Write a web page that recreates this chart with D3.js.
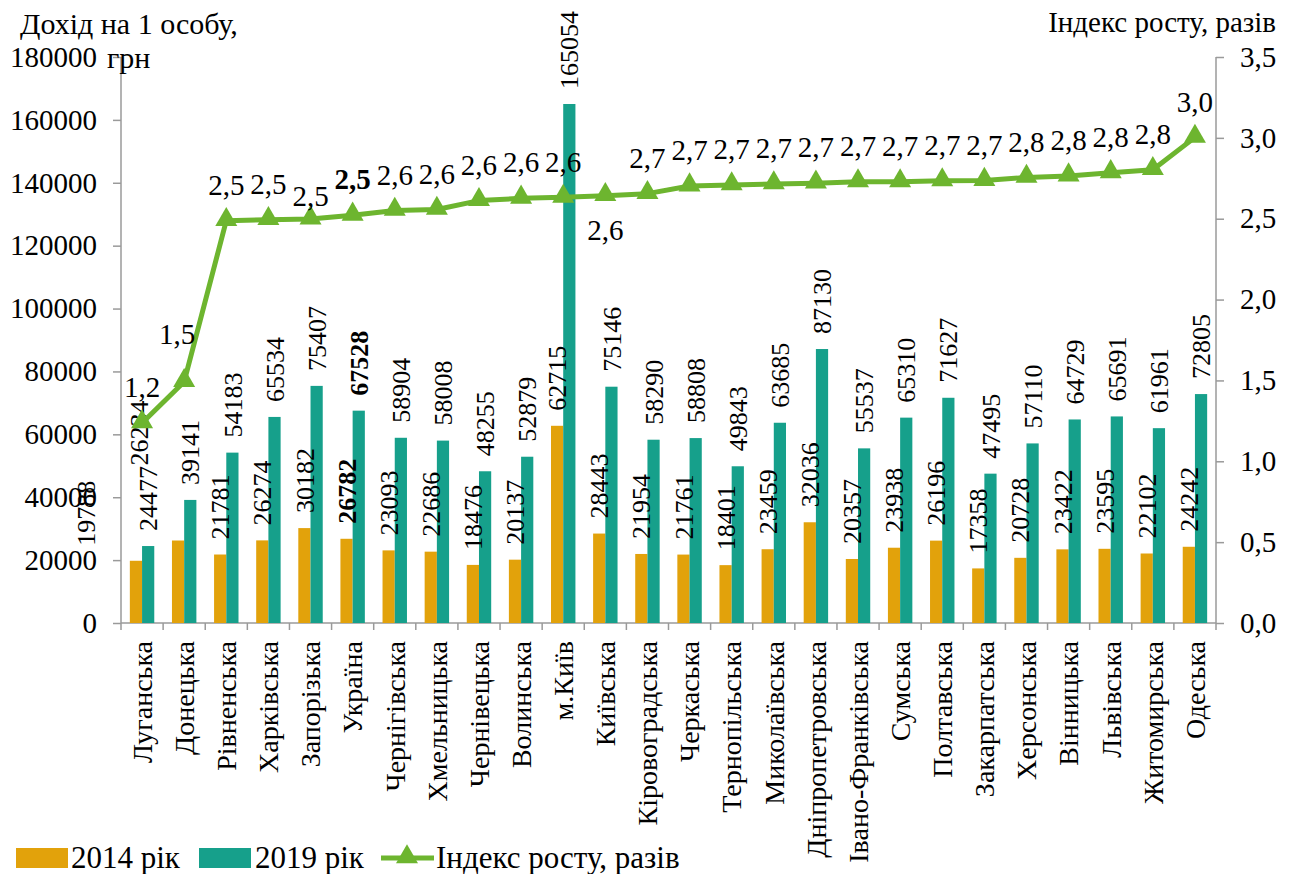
<!DOCTYPE html>
<html>
<head>
<meta charset="utf-8">
<script src="https://cdn.jsdelivr.net/npm/d3@7/dist/d3.min.js"></script>
<style>
  body { margin: 0; background: #fff; }
  svg text { font-family: "Liberation Serif", "Times New Roman", serif; fill: #000; }
</style>
</head>
<body>
<div id="chart"></div>
<script>
//////////////////////////////////////////////////////////////////////////////
// Data

var regions = ["Луганська", "Донецька", "Рівненська", "Харківська", "Запорізька", "Україна",
    "Чернігівська", "Хмельницька", "Чернівецька", "Волинська", "м.Київ", "Київська",
    "Кіровоградська", "Черкаська", "Тернопільська", "Миколаївська", "Дніпропетровська",
    "Івано-Франківська", "Сумська", "Полтавська", "Закарпатська", "Херсонська", "Вінницька",
    "Львівська", "Житомирська", "Одеська"];

var income2014 = [19788, 26234, 21781, 26274, 30182, 26782, 23093, 22686, 18476, 20137, 62715, 28443,
    21954, 21761, 18401, 23459, 32036, 20357, 23938, 26196, 17358, 20728, 23422, 23595, 22102, 24242];

var income2019 = [24477, 39141, 54183, 65534, 75407, 67528, 58904, 58008, 48255, 52879, 165054, 75146,
    58290, 58808, 49843, 63685, 87130, 55537, 65310, 71627, 47495, 57110, 64729, 65691, 61961, 72805];

var growthIndex = [1.237, 1.492, 2.488, 2.494, 2.498, 2.521, 2.551, 2.557, 2.612, 2.626, 2.632, 2.642,
    2.655, 2.702, 2.709, 2.715, 2.720, 2.728, 2.728, 2.734, 2.736, 2.755, 2.764, 2.784, 2.803, 3.003];

var seriesNames = ["2014 рік", "2019 рік", "Індекс росту, разів"];
var leftTicks = [0, 20000, 40000, 60000, 80000, 100000, 120000, 140000, 160000, 180000];
var rightTicks = [0, 0.5, 1.0, 1.5, 2.0, 2.5, 3.0, 3.5];

//////////////////////////////////////////////////////////////////////////////
// Preliminaries

var W = 1296, H = 874;
var pLeft = 121, pRight = 1216, pTop = 57, pBottom = 623;
var col2014 = "#e2a20b", col2019 = "#16a08b", colLine = "#6db52f", axisCol = "#9a9a9a";

var rows = regions.map(function(r, i) {
    return {name: r, v14: income2014[i], v19: income2019[i], idx: growthIndex[i], bold: r === "Україна"};
});

var x = d3.scaleBand().domain(regions).range([pLeft, pRight]).padding(0);
var xs = d3.scaleBand().domain(["v14", "v19"])
    .range([x.bandwidth() * 0.21, x.bandwidth() * 0.79]);
var y = d3.scaleLinear().domain([0, 180000]).range([pBottom, pTop]);
var y2 = d3.scaleLinear().domain([0, 3.5]).range([pBottom, pTop]);

var comma1 = function(v) { return d3.format(".1f")(v).replace(".", ","); };

var svg = d3.select("#chart").append("svg")
    .attr("width", W).attr("height", H);

//////////////////////////////////////////////////////////////////////////////
// Axes

var yAxis = svg.append("g")
    .attr("transform", "translate(" + pLeft + ",0)")
    .call(d3.axisLeft(y).tickValues(leftTicks).tickSize(8).tickPadding(16).tickFormat(d3.format("d")));

var yAxis2 = svg.append("g")
    .attr("transform", "translate(" + pRight + ",0)")
    .call(d3.axisRight(y2).tickValues(rightTicks).tickSize(8).tickPadding(16).tickFormat(comma1));

[yAxis, yAxis2].forEach(function(a) {
    a.selectAll("path.domain").attr("stroke", axisCol).attr("stroke-width", 1.5)
        .attr("d", "M0," + pTop + "V" + pBottom);
    a.selectAll(".tick line").attr("stroke", axisCol).attr("stroke-width", 1.5);
    a.selectAll(".tick text").attr("font-size", 29).attr("font-family", "Liberation Serif");
});

svg.append("line")
    .attr("x1", pLeft).attr("x2", pRight).attr("y1", pBottom).attr("y2", pBottom)
    .attr("stroke", axisCol).attr("stroke-width", 1.5);

svg.append("g").selectAll("line")
    .data(d3.range(regions.length + 1))
    .enter().append("line")
    .attr("x1", function(i) { return pLeft + i * x.step(); })
    .attr("x2", function(i) { return pLeft + i * x.step(); })
    .attr("y1", pBottom).attr("y2", pBottom + 7)
    .attr("stroke", axisCol).attr("stroke-width", 1.5);

svg.append("g").selectAll("text")
    .data(regions)
    .enter().append("text")
    .attr("transform", function(d) {
        return "translate(" + (x(d) + x.bandwidth() / 2) + "," + (pBottom + 18) + ") rotate(-90)";
    })
    .attr("text-anchor", "end")
    .attr("dy", "0.35em")
    .attr("font-size", 28)
    .text(function(d) { return d; });

// axis titles
svg.append("text").attr("x", 20).attr("y", 34).attr("font-size", 30).text("Дохід на 1 особу,");
svg.append("text").attr("x", 107).attr("y", pTop).attr("dy", "0.35em").attr("font-size", 30).text("грн");
svg.append("text").attr("x", 1276).attr("y", 32).attr("text-anchor", "end").attr("font-size", 29)
    .text("Індекс росту, разів");

//////////////////////////////////////////////////////////////////////////////
// Bars

var groups = svg.append("g").selectAll("g")
    .data(rows)
    .enter().append("g")
    .attr("transform", function(d) { return "translate(" + x(d.name) + ",0)"; });

groups.append("rect")
    .attr("x", xs("v14")).attr("width", xs.bandwidth())
    .attr("y", function(d) { return y(d.v14); })
    .attr("height", function(d) { return pBottom - y(d.v14); })
    .attr("fill", col2014);

groups.append("rect")
    .attr("x", xs("v19")).attr("width", xs.bandwidth())
    .attr("y", function(d) { return y(d.v19); })
    .attr("height", function(d) { return pBottom - y(d.v19); })
    .attr("fill", col2019);

// a few labels were dragged by hand in the original
var nudge14 = {"Луганська": [-50, 0], "Донецька": [-39, -60]};

groups.append("text")
    .attr("transform", function(d) {
        var n = nudge14[d.name] || [0, 0];
        return "translate(" + (xs("v14") + xs.bandwidth() / 2 + n[0]) + "," + (y(d.v14) - 15 + n[1]) + ") rotate(-90)";
    })
    .attr("dy", "0.35em")
    .attr("font-size", 26)
    .attr("font-weight", function(d) { return d.bold ? "bold" : null; })
    .text(function(d) { return d.v14; });

groups.append("text")
    .attr("transform", function(d) {
        return "translate(" + (xs("v19") + xs.bandwidth() / 2) + "," + (y(d.v19) - 15) + ") rotate(-90)";
    })
    .attr("dy", "0.35em")
    .attr("font-size", 26)
    .attr("font-weight", function(d) { return d.bold ? "bold" : null; })
    .text(function(d) { return d.v19; });

//////////////////////////////////////////////////////////////////////////////
// Index line

var cx = function(d) { return x(d.name) + x.bandwidth() / 2; };

svg.append("path")
    .datum(rows)
    .attr("d", d3.line().x(cx).y(function(d) { return y2(d.idx); }))
    .attr("fill", "none").attr("stroke", colLine).attr("stroke-width", 5)
    .attr("stroke-linejoin", "round");

var tri = d3.symbol().type(d3.symbolTriangle).size(210);

svg.append("g").selectAll("path")
    .data(rows)
    .enter().append("path")
    .attr("d", tri)
    .attr("transform", function(d) { return "translate(" + cx(d) + "," + (y2(d.idx) - 1) + ")"; })
    .attr("fill", colLine);

var nudgeIdx = {"Донецька": [-7, -12], "Запорізька": [0, 13], "Київська": [0, 70]};

svg.append("g").selectAll("text")
    .data(rows)
    .enter().append("text")
    .attr("x", function(d) { return cx(d) + (nudgeIdx[d.name] ? nudgeIdx[d.name][0] : 0); })
    .attr("y", function(d) { return y2(d.idx) - 36 + (nudgeIdx[d.name] ? nudgeIdx[d.name][1] : 0); })
    .attr("dy", "0.35em")
    .attr("text-anchor", "middle")
    .attr("font-size", 29)
    .attr("font-weight", function(d) { return d.bold ? "bold" : null; })
    .text(function(d) { return comma1(d.idx); });

//////////////////////////////////////////////////////////////////////////////
// Legend

var legend = svg.append("g").attr("transform", "translate(0,857)");

legend.append("rect").attr("x", 16).attr("y", -9).attr("width", 52).attr("height", 20).attr("fill", col2014);
legend.append("text").attr("x", 71).attr("y", 0).attr("dy", "0.35em").attr("font-size", 31).text(seriesNames[0]);

legend.append("rect").attr("x", 199).attr("y", -9).attr("width", 52).attr("height", 20).attr("fill", col2019);
legend.append("text").attr("x", 255).attr("y", 0).attr("dy", "0.35em").attr("font-size", 31).text(seriesNames[1]);

legend.append("line").attr("x1", 381).attr("x2", 434).attr("y1", 1).attr("y2", 1)
    .attr("stroke", colLine).attr("stroke-width", 5);
legend.append("path").attr("d", tri).attr("transform", "translate(407,0)").attr("fill", colLine);
legend.append("text").attr("x", 436).attr("y", 0).attr("dy", "0.35em").attr("font-size", 31).text(seriesNames[2]);
</script>
</body>
</html>
